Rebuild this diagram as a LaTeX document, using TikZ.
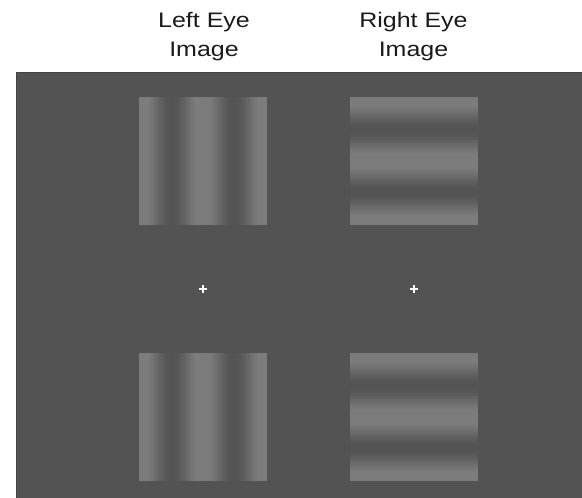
\documentclass[tikz,border=0pt]{standalone}
\usepackage{fontspec}
\setmainfont{Liberation Sans}
\newfontfamily\eyefont[FakeStretch=1.19]{Liberation Sans}
\usetikzlibrary{positioning}
\definecolor{screenGray}{HTML}{535353}
\definecolor{screenEdge}{HTML}{444444}
\definecolor{barLight}{HTML}{7C7C7C}
\definecolor{barDark}{HTML}{525252}
\definecolor{labelBlack}{HTML}{1A1A1A}

\begin{document}
\begin{tikzpicture}[
  x=1pt, y=-1pt,
  eyelabel/.style={font=\eyefont\fontsize{21}{28.5}\selectfont, align=center, text=labelBlack, inner sep=0pt, anchor=north},
  fixcross/.style={white, line width=1.6pt},
]
\useasboundingbox (0,0) rectangle (582,498);

% Screen
\fill[screenGray] (16,72) rectangle (582,498);
\draw[screenEdge, line width=1pt] (16.5,498) -- (16.5,72.5) -- (582,72.5);

% Eye labels
\node[eyelabel] (leftlab) at (204,12.5) {Left Eye\\Image};
\node[eyelabel] (rightlab) at (413.5,12.5) {Right Eye\\Image};

% Left eye: vertical gratings (period 62pt, bright at centre)
\foreach \gy in {97,353} {
  \foreach \i [evaluate=\i as \p using {int(max(0,min(100,58+55*cos(5.80645*(2*\i-63)))))}] in {0,...,63} {
    \fill[barLight!\p!barDark] (139+2*\i,\gy) rectangle ++(2.4,128);
  }
}

% Right eye: horizontal gratings
\foreach \gy in {97,353} {
  \foreach \i [evaluate=\i as \p using {int(max(0,min(100,58+55*cos(5.80645*(2*\i-63)))))}] in {0,...,63} {
    \fill[barLight!\p!barDark] (350,\gy+2*\i) rectangle ++(128,2.4);
  }
}

% Fixation crosses
\coordinate (leftfix) at (203,289);
\coordinate (rightfix) at (414,289);
\foreach \f in {leftfix,rightfix} {
  \draw[fixcross] ([xshift=-4pt]\f) -- ([xshift=4pt]\f);
  \draw[fixcross] ([yshift=-4pt]\f) -- ([yshift=4pt]\f);
}
\end{tikzpicture}
\end{document}
